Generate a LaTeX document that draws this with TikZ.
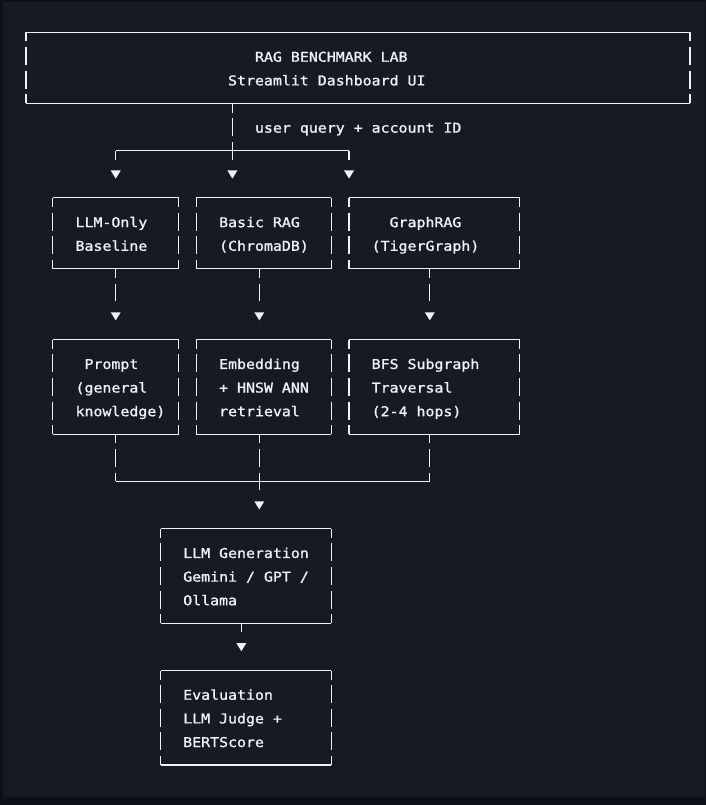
\documentclass[tikz,border=0pt]{standalone}
\usepackage{fontspec}
\usetikzlibrary{fit}
\newfontfamily\asciifont[FakeStretch=1.104,FakeBold=1.2]{DejaVu Sans Mono}
\definecolor{bgout}{HTML}{0D1117}
\definecolor{bgpanel}{HTML}{161B22}
\definecolor{ink}{HTML}{EEF2F6}

\tikzset{
  ln/.style={draw=ink, line width=1.1pt},
  stub/.style={ln, dash pattern=on 18pt off 5.63pt, dash phase=9pt},
  txt/.style={anchor=base west, inner sep=0pt, text=ink,
    font=\asciifont\fontsize{13.5}{16}\selectfont},
}

% ASCII box: name, col1, row1, col2, row2
\newcommand\abox[5]{%
  \coordinate (#1-nw) at (#2,#3);
  \coordinate (#1-se) at (#4,#5);
  \node[fit=(#1-nw)(#1-se), inner sep=0pt] (#1) {};
  \draw[ln] (#1-nw) -- (#4,#3);
  \draw[ln] (#2,#5) -- (#1-se);
  \foreach \c in {#2,#4}{%
    \draw[ln] (\c,#3) -- ([yshift=-9pt]\c,#3);
    \draw[ln] ([yshift=9pt]\c,#5) -- (\c,#5);
    \pgfmathtruncatemacro\ra{#3+1}%
    \pgfmathtruncatemacro\rb{#5-1}%
    \foreach \r in {\ra,...,\rb}{%
      \draw[ln] ([yshift=9pt]\c,\r) -- ([yshift=-9pt]\c,\r);
    }
  }
}
% text line: name, col, row, text
\newcommand\tline[4]{%
  \node[txt] (#1) at ([xshift=-4.49pt,yshift=-5.6pt]#2,#3) {#4};
}
% down triangle: name, col, row
\newcommand\dtip[3]{%
  \coordinate (#1) at (#2,#3);
  \fill[ink] ([xshift=-5pt,yshift=3.8pt]#1) -- ([xshift=5pt,yshift=3.8pt]#1) -- ([yshift=-4.3pt]#1) -- cycle;
}

\begin{document}
\begin{tikzpicture}[x=8.973pt, y=-23.63pt]
  \fill[bgout] (0pt,0pt) rectangle (706pt,-805pt);
  \fill[bgpanel] (3pt,-2pt) rectangle (705pt,-797pt);
  \useasboundingbox (0pt,0pt) rectangle (706pt,-805pt);

  \begin{scope}[shift={(26pt,-32.5pt)}]
    % boxes
    \abox{top}{0}{0}{74}{3}
    \abox{b1}{3}{7}{17}{10}
    \abox{b2}{19}{7}{34}{10}
    \abox{b3}{36}{7}{55}{10}
    \abox{c1}{3}{13}{17}{17}
    \abox{c2}{19}{13}{34}{17}
    \abox{c3}{36}{13}{55}{17}
    \abox{gen}{15}{21}{34}{25}
    \abox{ev}{15}{27}{34}{31}

    % texts
    \tline{t1}{26}{1}{RAG BENCHMARK LAB}
    \tline{t2}{23}{2}{Streamlit Dashboard UI}
    \tline{q}{26}{4}{user query + account ID}

    \tline{b1a}{6}{8}{LLM-Only}
    \tline{b1b}{6}{9}{Baseline}
    \tline{b2a}{22}{8}{Basic RAG}
    \tline{b2b}{22}{9}{(ChromaDB)}
    \tline{b3a}{41}{8}{GraphRAG}
    \tline{b3b}{39}{9}{(TigerGraph)}

    \tline{c1a}{7}{14}{Prompt}
    \tline{c1b}{6}{15}{(general}
    \tline{c1c}{6}{16}{knowledge)}
    \tline{c2a}{22}{14}{Embedding}
    \tline{c2b}{22}{15}{+ HNSW ANN}
    \tline{c2c}{22}{16}{retrieval}
    \tline{c3a}{39}{14}{BFS Subgraph}
    \tline{c3b}{39}{15}{Traversal}
    \tline{c3c}{39}{16}{(2-4 hops)}

    \tline{g1}{18}{22}{LLM Generation}
    \tline{g2}{18}{23}{Gemini / GPT /}
    \tline{g3}{18}{24}{Ollama}

    \tline{e1}{18}{28}{Evaluation}
    \tline{e2}{18}{29}{LLM Judge +}
    \tline{e3}{18}{30}{BERTScore}

    % fan-out from dashboard
    \coordinate (split) at (23,5);
    \draw[stub] (top.south -| split) -- ([yshift=-9pt]split);
    \draw[ln] (10,5) -- (36,5);
    \draw[ln] (10,5) -- ([yshift=-9pt]10,5);
    \draw[ln] (36,5) -- ([yshift=-9pt]36,5);
    \dtip{a1}{10}{6}
    \dtip{a2}{23}{6}
    \dtip{a3}{36}{6}

    % middle column arrows
    \draw[stub] (b1.south -| 10,0) -- ([yshift=-9pt]10,11);
    \draw[stub] (b2.south -| 26,0) -- ([yshift=-9pt]26,11);
    \draw[stub] (b3.south -| 45,0) -- ([yshift=-9pt]45,11);
    \dtip{m1}{10}{12}
    \dtip{m2}{26}{12}
    \dtip{m3}{45}{12}

    % merge
    \coordinate (merge) at (26,19);
    \draw[stub] (c1.south -| 10,0) -- (10,19);
    \draw[stub] (c2.south -| merge) -- ([yshift=-9pt]merge);
    \draw[stub] (c3.south -| 45,0) -- (45,19);
    \draw[ln] (10,19) -- (45,19);
    \dtip{g0}{26}{20}

    % generation -> evaluation
    \draw[ln] (gen.south -| 24,0) -- ([yshift=-9pt]24,25);
    \dtip{e0}{24}{26}
  \end{scope}
\end{tikzpicture}
\end{document}
